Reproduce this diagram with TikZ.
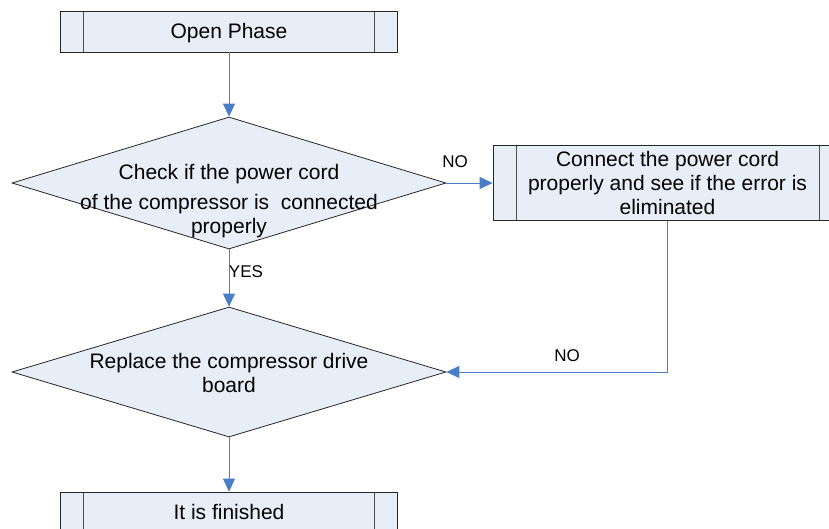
\documentclass[tikz,border=0pt]{standalone}
\usepackage{fontspec}
\setmainfont{Liberation Sans}
\usetikzlibrary{shapes.geometric,arrows.meta}
\definecolor{boxfill}{HTML}{E8EEF8}
\definecolor{flowblue}{HTML}{4A7EC5}
\tikzset{
  procbox/.style={draw=black!85, fill=boxfill, line width=0.8pt, inner sep=0pt,
    align=center, font=\fontsize{21}{24}\selectfont,
    path picture={
      \draw[black!70, line width=0.8pt] ([xshift=23pt]path picture bounding box.north west) -- ([xshift=23pt]path picture bounding box.south west);
      \draw[black!70, line width=0.8pt] ([xshift=-23pt]path picture bounding box.north east) -- ([xshift=-23pt]path picture bounding box.south east);
    }},
  decision/.style={diamond, draw=black!85, fill=boxfill, line width=0.8pt, inner sep=0pt},
  dtext/.style={align=center, font=\fontsize{21}{24}\selectfont, inner sep=0pt},
  flow/.style={draw=flowblue, line width=0.9pt, -{Triangle[length=13pt,width=12pt]}},
  lbl/.style={font=\fontsize{17}{20}\selectfont, inner sep=0pt}
}
\begin{document}
\begin{tikzpicture}[x=1pt,y=-1pt]
\useasboundingbox (0,0) rectangle (829,528);
\clip (0,0) rectangle (829,528);
\node[procbox, minimum width=337pt, minimum height=41pt, text depth=2pt] (b1) at (229,31.5) {Open Phase};
\node[decision, minimum width=434pt, minimum height=132pt] (d1) at (229,183) {};
\node[dtext] (t1) at (229,201) {Check if the power cord\\[6pt]of the compressor is\ \ connected\\properly};
\node[procbox, minimum width=349pt, minimum height=75pt] (b2) at (667.5,183) {Connect the power cord\\properly and see if the error is\\eliminated};
\node[decision, minimum width=434pt, minimum height=130pt] (d2) at (229,372) {};
\node[dtext] (t2) at (229,373) {Replace the compressor drive\\board};
\node[procbox, minimum width=337pt, minimum height=41pt, text depth=2pt] (b3) at (229,512.5) {It is finished};
\path[flow] (b1.south) -- (d1.north);
\path[flow] (d1.east) -- (b2.west);
\path[flow] (d1.south) -- (d2.north);
\path[flow] (b2.south) |- (d2.east);
\path[flow] (d2.south) -- (b3.north);
\node[lbl] (no1) at (455,162) {NO};
\node[lbl] (yes) at (246,272) {YES};
\node[lbl] (no2) at (567,356) {NO};
\end{tikzpicture}
\end{document}
